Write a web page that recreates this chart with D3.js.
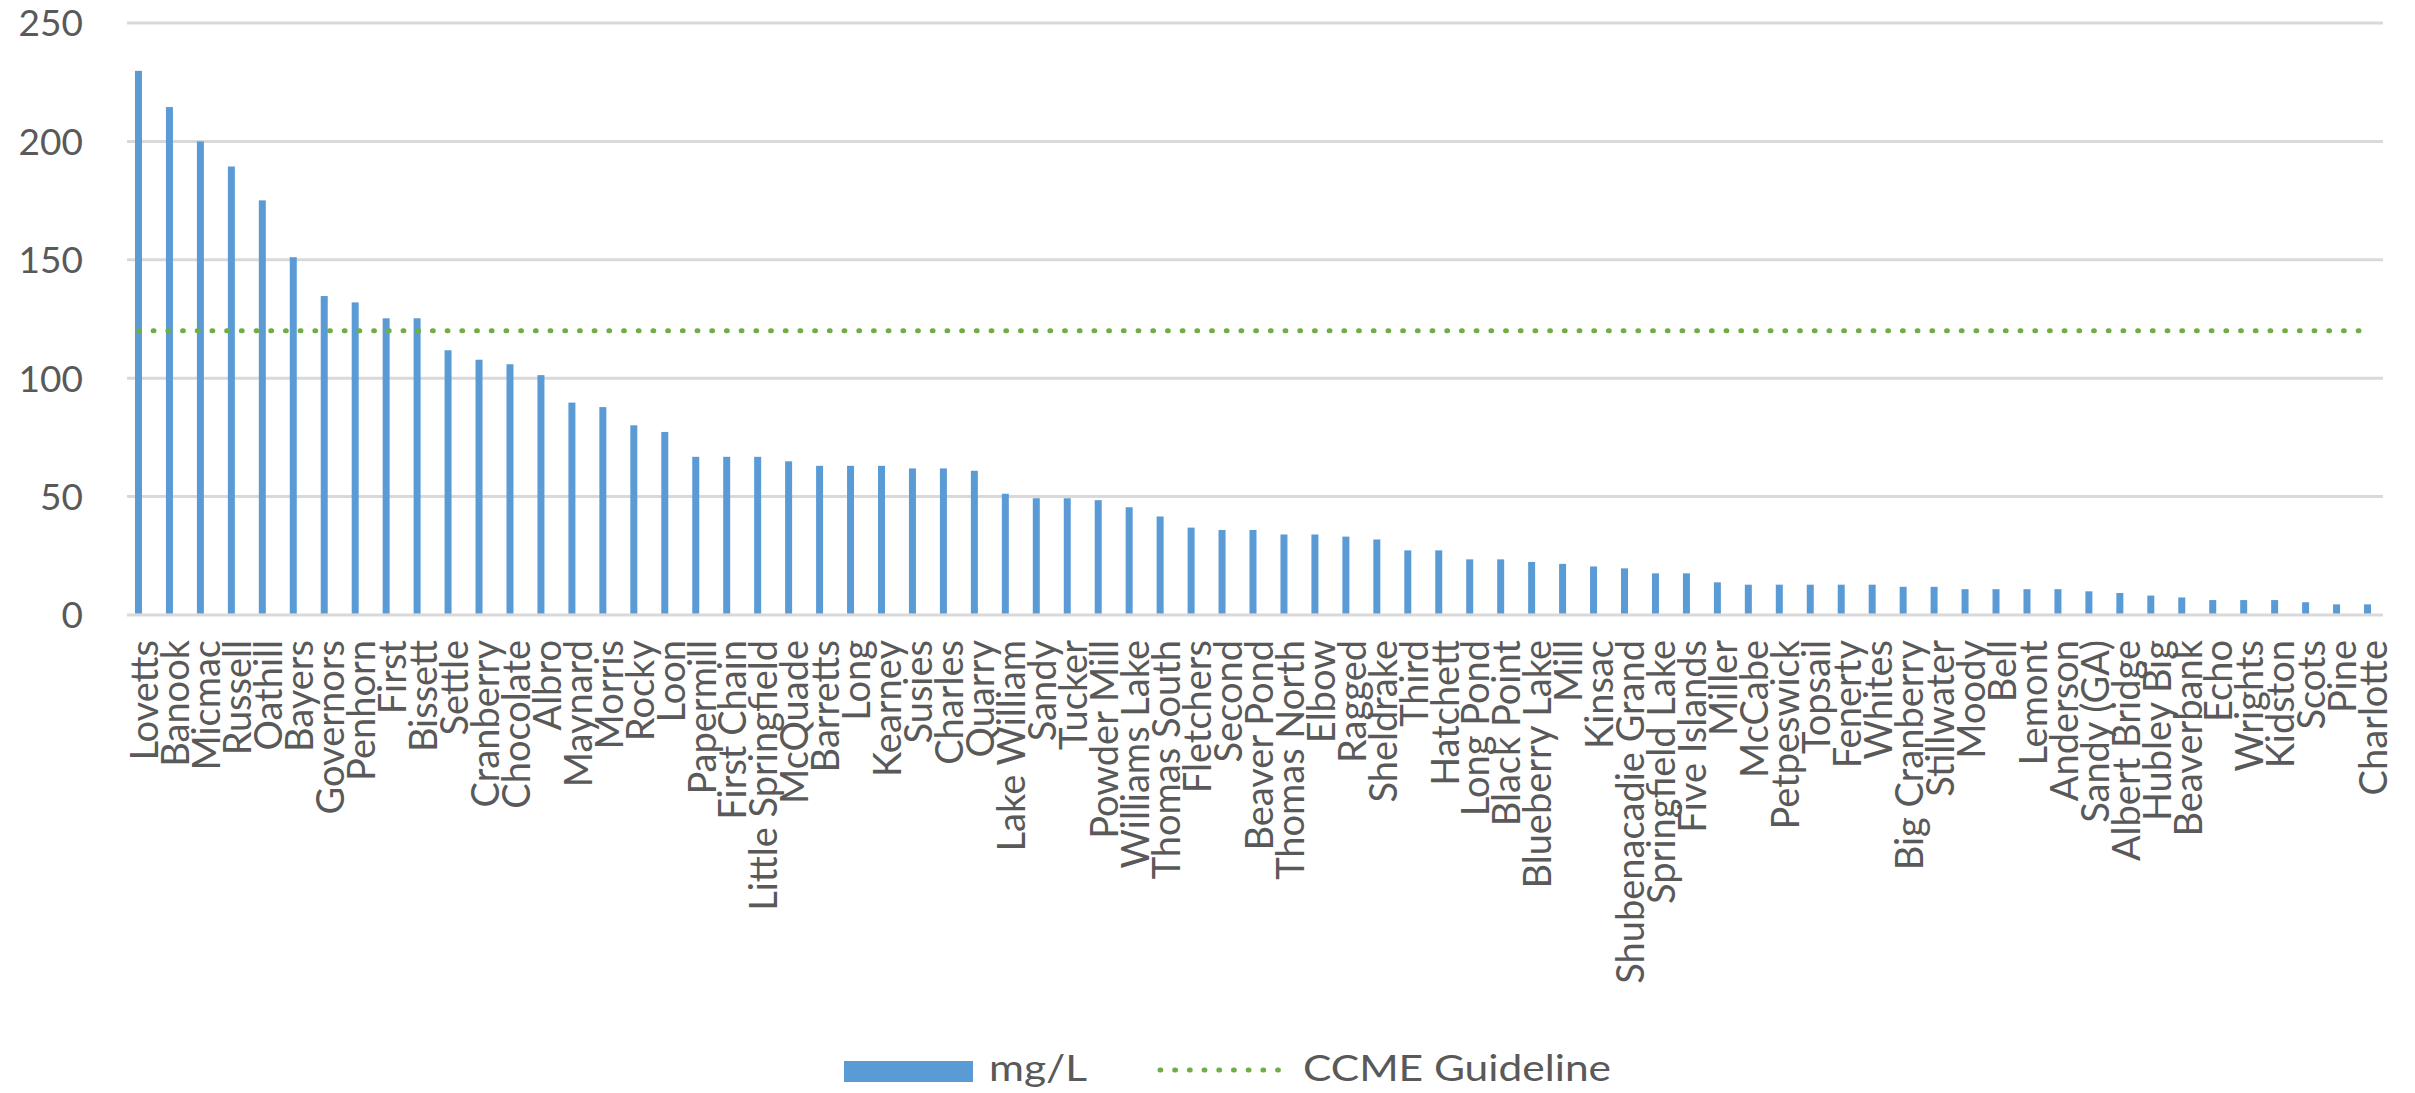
<!DOCTYPE html>
<html>
<head>
<meta charset="utf-8">
<script src="https://cdn.jsdelivr.net/npm/d3@7"></script>
<style>
  html, body { margin: 0; padding: 0; background: #ffffff; }
  svg { display: block; }
</style>
</head>
<body>
<svg id="chart" width="2415" height="1093"></svg>
<script>
const categories = ["Lovetts","Banook","Micmac","Russell","Oathill","Bayers","Governors","Penhorn","First","Bissett","Settle","Cranberry","Chocolate","Albro","Maynard","Morris","Rocky","Loon","Papermill","First Chain","Little Springfield","McQuade","Barretts","Long","Kearney","Susies","Charles","Quarry","Lake William","Sandy","Tucker","Powder Mill","Williams Lake","Thomas South","Fletchers","Second","Beaver Pond","Thomas North","Elbow","Ragged","Sheldrake","Third","Hatchett","Long Pond","Black Point","Blueberry Lake","Mill","Kinsac","Shubenacadie Grand","Springfield Lake","Five Islands","Miller","McCabe","Petpeswick","Topsail","Fenerty","Whites","Big Cranberry","Stillwater","Moody","Bell","Lemont","Anderson","Sandy (GA)","Albert Bridge","Hubley Big","Beaverbank","Echo","Wrights","Kidston","Scots","Pine","Charlotte"];

const values = [229.8,214.5,200.0,189.4,175.1,151.1,134.7,132.0,125.3,125.3,111.8,107.8,105.9,101.3,89.7,87.8,80.1,77.3,66.8,66.8,66.8,64.9,63.0,63.0,63.0,61.9,61.9,60.9,51.2,49.3,49.3,48.5,45.5,41.6,36.9,35.9,35.9,34.0,34.0,33.1,31.9,27.3,27.3,23.5,23.5,22.4,21.6,20.5,19.7,17.6,17.6,13.8,12.8,12.8,12.8,12.8,12.8,11.9,11.9,10.9,10.9,10.9,10.9,10.0,9.3,8.2,7.4,6.3,6.3,6.3,5.4,4.5,4.5];

const guidelineValue = 120;
const yTicks = [0, 50, 100, 150, 200, 250];
const seriesNames = ["mg/L", "CCME Guideline"];

const textColor = "#595959";
const barColor = "#5B9BD5";
const lineColor = "#70AD47";
const gridColor = "#d9d9d9";
const font = "Lato, 'Open Sans', sans-serif";

const svg = d3.select("#chart");
svg.append("rect").attr("width", 2415).attr("height", 1093).attr("fill", "#fff");

const plotLeft = 123, plotRight = 2383, plotTop = 23, plotBottom = 615;

const x = d3.scaleBand().domain(categories).range([plotLeft, plotRight])
  .paddingInner(0.774).paddingOuter(0.387);
const y = d3.scaleLinear().domain([0, 250]).range([plotBottom, plotTop]);

// gridlines
const yAxis = d3.axisLeft(y).tickValues(yTicks).tickSize(0).tickPadding(0);
const gy = svg.append("g").attr("transform", `translate(${plotLeft + 4},0)`);
gy.selectAll("line.grid").data(yTicks).enter().append("line")
  .attr("class", "grid")
  .attr("x1", 0).attr("x2", plotRight - plotLeft - 4)
  .attr("y1", d => y(d)).attr("y2", d => y(d))
  .attr("stroke", gridColor).attr("stroke-width", 3);

// y axis labels
const gyl = svg.append("g").attr("transform", `translate(83,0)`).call(yAxis);
gyl.select(".domain").remove();
gyl.selectAll("text")
  .attr("font-family", font).attr("font-size", 37).attr("fill", textColor)
  .attr("dy", "0.35em").attr("text-anchor", "end");

// bars
svg.append("g").selectAll("rect").data(categories).enter().append("rect")
  .attr("x", d => x(d))
  .attr("width", x.bandwidth())
  .attr("y", (d, i) => y(values[i]))
  .attr("height", (d, i) => y(0) - y(values[i]) - 1.5)
  .attr("fill", barColor);

// guideline
const cx = d => x(d) + x.bandwidth() / 2;
const line = d3.line().x(d => cx(d)).y(() => y(guidelineValue));
svg.append("path")
  .datum(categories)
  .attr("d", line)
  .attr("fill", "none")
  .attr("stroke", lineColor)
  .attr("stroke-width", 5)
  .attr("stroke-linecap", "round")
  .attr("stroke-dasharray", "0.8,13.9");

// x labels
const xAxis = d3.axisBottom(x).tickSize(0).tickPadding(0);
const gx = svg.append("g").attr("transform", `translate(0,${plotBottom})`).call(xAxis);
gx.select(".domain").remove();
gx.selectAll(".tick text")
  .attr("font-family", font).attr("font-size", 38).attr("fill", textColor)
  .attr("text-anchor", "end")
  .attr("transform", "translate(0,25) rotate(-90)")
  .attr("x", 0).attr("y", 0)
  .attr("dy", "0.52em");

// legend
const leg = svg.append("g");
leg.append("rect").attr("x", 844).attr("y", 1061).attr("width", 129).attr("height", 21).attr("fill", barColor);
leg.append("text").attr("transform", "translate(989,1081) scale(1.18,1)")
  .attr("font-family", font).attr("font-size", 36).attr("fill", textColor).text(seriesNames[0]);
leg.append("line").attr("x1", 1160).attr("x2", 1280).attr("y1", 1070).attr("y2", 1070)
  .attr("stroke", lineColor).attr("stroke-width", 5).attr("stroke-linecap", "round")
  .attr("stroke-dasharray", "0.8,13.9");
leg.append("text").attr("transform", "translate(1303,1081) scale(1.18,1)")
  .attr("font-family", font).attr("font-size", 36).attr("fill", textColor).text(seriesNames[1]);
</script>
</body>
</html>
